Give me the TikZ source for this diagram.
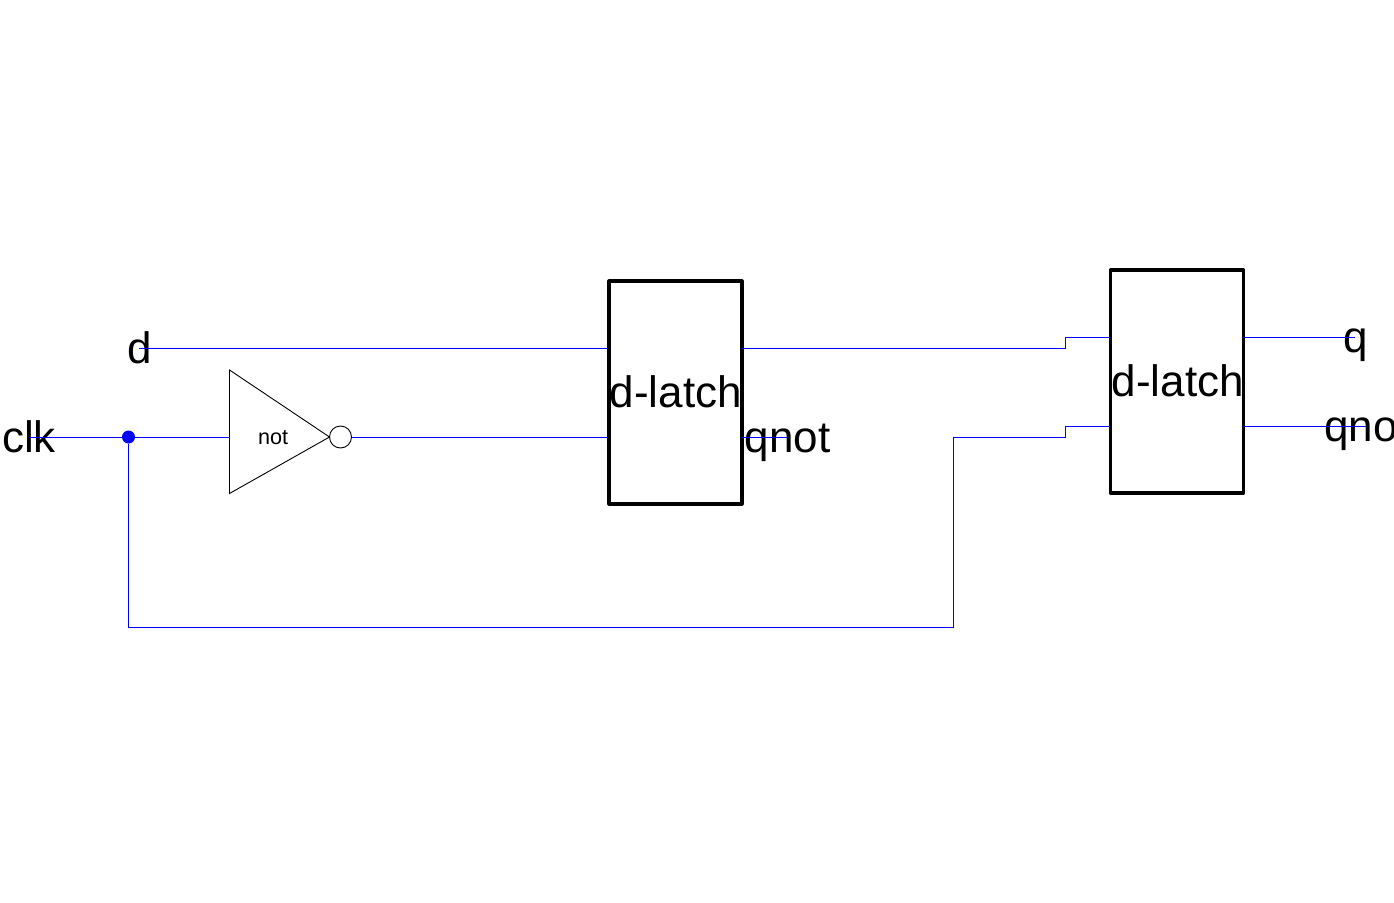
\documentclass[tikz,border=0pt]{standalone}
\usepackage{fontspec}
\setmainfont{Liberation Sans}
\tikzset{
  wire/.style={blue,line width=1pt},
  gateline/.style={black,line width=0.9pt},
  latchbox/.style={draw,line width=3.2pt,line join=round,minimum width=133pt,inner sep=0pt},
  biglabel/.style={anchor=base west,inner sep=0pt,font=\fontsize{44}{48}\selectfont},
  smalllabel/.style={anchor=base west,inner sep=0pt,font=\fontsize{21.6}{24}\selectfont},
  junction/.style={circle,fill=blue,inner sep=0pt,minimum size=13pt}
}
\begin{document}
\begin{tikzpicture}[x=1pt,y=-1pt]
    \useasboundingbox (0,0) rectangle (1394,902);
    % first latch and its pins
    \node [latchbox,minimum height=223pt] (latcha) at (675.5,392.5) {};
    \node [biglabel] (latchatext) at (609.5,407) {d-latch};
    \coordinate (latchaD) at (608,348);
    \coordinate (latchaC) at (608,437);
    \coordinate (latchaQ) at (742,348);
    \coordinate (latchaN) at (742,437);
    % second latch and its pins
    \node [latchbox,minimum height=223pt] (latchb) at (1177,381.5) {};
    \node [biglabel] (latchbtext) at (1111.5,396) {d-latch};
    \coordinate (latchbD) at (1110,337);
    \coordinate (latchbC) at (1110,426);
    \coordinate (latchbQ) at (1243,337);
    \coordinate (latchbN) at (1243,426);
    % inverter
    \coordinate (nottop) at (229.5,370);
    \coordinate (notbot) at (229.5,493.5);
    \coordinate (notin) at (229.5,437);
    \coordinate (notout) at (329.5,437);
    \draw [gateline] (nottop)--(notout)--(notbot)--cycle;
    \node [smalllabel] (notlab) at (258,444) {not};
    \node [circle,draw,gateline,inner sep=0pt,minimum size=22pt] (bubble) at (340.5,437) {};
    % labels and free ends
    \node [biglabel] (d) at (127,363) {d};
    \node [biglabel] (clk) at (2,452) {clk};
    \node [biglabel] (qnota) at (744.5,452) {qnot};
    \node [biglabel] (q) at (1343,352.5) {q};
    \node [biglabel] (qnotb) at (1324,441.5) {qnot};
    \coordinate (dend) at (139,348);
    \coordinate (clkend) at (30,437);
    \coordinate (qnotaend) at (787,437);
    \coordinate (qend) at (1355,337);
    \coordinate (qnotbend) at (1366,426);
    \node [junction] (split) at (128.5,437) {};
    % wires
    \draw [wire] (dend)--(latchaD);
    \draw [wire] (clkend)--(split);
    \draw [wire] (split)--(notin);
    \draw [wire] (bubble)--(latchaC);
    \draw [wire] (latchaN)--(qnotaend);
    \draw [wire] (latchaQ)--(1065,348)--(1065,337)--(latchbD);
    \draw [wire] (split)--(128.5,627)--(953,627)--(953,437)--(1065,437)--(1065,426)--(latchbC);
    \draw [wire] (latchbQ)--(qend);
    \draw [wire] (latchbN)--(qnotbend);
  \end{tikzpicture}
\end{document}
